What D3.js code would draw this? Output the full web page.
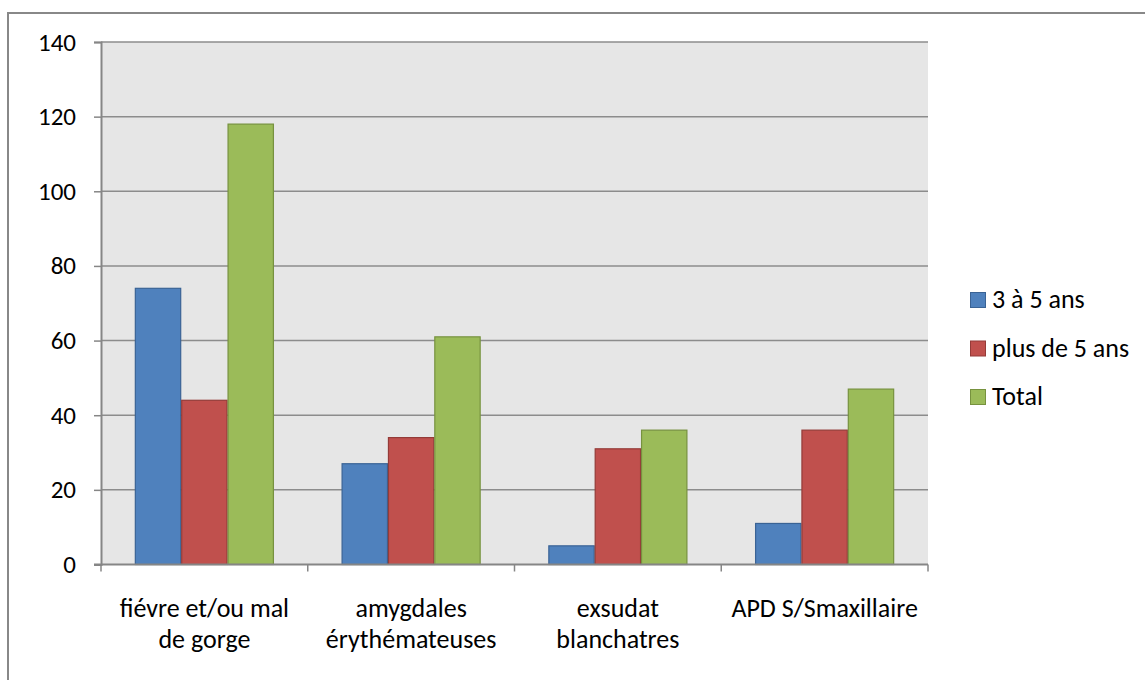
<!DOCTYPE html>
<html>
<head>
<meta charset="utf-8">
<script src="https://cdn.jsdelivr.net/npm/d3@7"></script>
<style>
  html, body { margin: 0; padding: 0; background: #fff; }
  svg { display: block; }
  text { font-family: Carlito, Calibri, Lato, "Liberation Sans", sans-serif; fill: #000; }
</style>
</head>
<body>
<svg id="chart" width="1145" height="680"></svg>
<script>
// Symptom counts by age group
const categories = [
  ["fiévre et/ou mal", "de gorge"],
  ["amygdales", "érythémateuses"],
  ["exsudat", "blanchatres"],
  ["APD S/Smaxillaire"]
];
const seriesNames = ["3 à 5 ans", "plus de 5 ans", "Total"];
const age3to5 = [74, 27, 5, 11];
const over5 = [44, 34, 31, 36];
const total = [118, 61, 36, 47];
const yTicks = [0, 20, 40, 60, 80, 100, 120, 140];

const seriesValues = [age3to5, over5, total];
const fills = ["#4f81bd", "#c0504d", "#9bbb59"];
const strokes = ["#3a6395", "#943b38", "#77923f"];

const svg = d3.select("#chart");

// frame of the chart area (open on the right and bottom edges)
svg.append("rect")
  .attr("x", 8).attr("y", 13)
  .attr("width", 1160).attr("height", 700)
  .attr("fill", "#fff")
  .attr("stroke", "#888").attr("stroke-width", 2);

const plot = { left: 101, right: 928, top: 42, bottom: 564.5 };

const x0 = d3.scaleBand()
  .domain(d3.range(categories.length))
  .range([plot.left, plot.right])
  .paddingInner(0).paddingOuter(0);

const x1 = d3.scaleBand()
  .domain(d3.range(seriesNames.length))
  .range([0, x0.bandwidth()])
  .paddingOuter(0.73).paddingInner(0);

const y = d3.scaleLinear().domain([0, 140]).range([plot.bottom, plot.top]);

// plot background
svg.append("rect")
  .attr("x", plot.left).attr("y", plot.top)
  .attr("width", plot.right - plot.left).attr("height", plot.bottom - plot.top)
  .attr("fill", "#e6e6e6");

// horizontal gridlines
svg.append("g")
  .selectAll("line")
  .data(yTicks.filter(d => d > 0))
  .join("line")
  .attr("x1", plot.left).attr("x2", plot.right)
  .attr("y1", d => y(d)).attr("y2", d => y(d))
  .attr("stroke", "#8c8c8c").attr("stroke-width", 1.5);

// bars
const groups = svg.append("g")
  .selectAll("g")
  .data(categories.map((c, i) => i))
  .join("g")
  .attr("transform", i => `translate(${x0(i)},0)`);

groups.selectAll("rect")
  .data(i => seriesValues.map((vals, s) => ({ s, v: vals[i] })))
  .join("rect")
  .attr("x", d => x1(d.s) + 0.5)
  .attr("width", x1.bandwidth() - 1)
  .attr("y", d => y(d.v))
  .attr("height", d => y(0) - y(d.v))
  .attr("fill", d => fills[d.s])
  .attr("stroke", d => strokes[d.s])
  .attr("stroke-width", 1.2);

// y axis
const yAxis = d3.axisLeft(y).tickValues(yTicks).tickSize(7).tickPadding(18);
const gy = svg.append("g").attr("transform", `translate(${plot.left},0)`).call(yAxis);
gy.attr("font-family", null).attr("font-size", null);
gy.select(".domain").attr("stroke", "#868686").attr("stroke-width", 2);
gy.selectAll(".tick line").attr("stroke", "#868686").attr("stroke-width", 1.5);
gy.selectAll(".tick text").attr("font-size", 25);

// x axis with category boundary ticks
const xTickPos = d3.range(categories.length + 1).map(i => plot.left + i * x0.bandwidth());
svg.append("line")
  .attr("x1", plot.left - 7).attr("x2", plot.right)
  .attr("y1", plot.bottom).attr("y2", plot.bottom)
  .attr("stroke", "#868686").attr("stroke-width", 2);
svg.append("g")
  .selectAll("line")
  .data(xTickPos)
  .join("line")
  .attr("x1", d => d).attr("x2", d => d)
  .attr("y1", plot.bottom).attr("y2", plot.bottom + 7)
  .attr("stroke", "#868686").attr("stroke-width", 1.5);

// category labels
const catLabels = svg.append("g")
  .selectAll("text")
  .data(categories.map((c, i) => ({ lines: c, i })))
  .join("text")
  .attr("text-anchor", "middle")
  .attr("font-size", 26)
  .attr("transform", d => `translate(${x0(d.i) + x0.bandwidth() / 2},0)`);
catLabels.selectAll("tspan")
  .data(d => d.lines)
  .join("tspan")
  .attr("x", 0)
  .attr("y", (d, j) => 617 + j * 31)
  .text(d => d);

// legend
const legend = svg.append("g")
  .selectAll("g")
  .data(seriesNames)
  .join("g")
  .attr("transform", (d, i) => `translate(970,${300 + i * 48.5})`);
legend.append("rect")
  .attr("x", 0.5).attr("y", -7.5)
  .attr("width", 15).attr("height", 15)
  .attr("fill", (d, i) => fills[i])
  .attr("stroke", (d, i) => strokes[i]).attr("stroke-width", 1);
legend.append("text")
  .attr("x", 22).attr("y", 8)
  .attr("font-size", 26)
  .text(d => d);
</script>
</body>
</html>
